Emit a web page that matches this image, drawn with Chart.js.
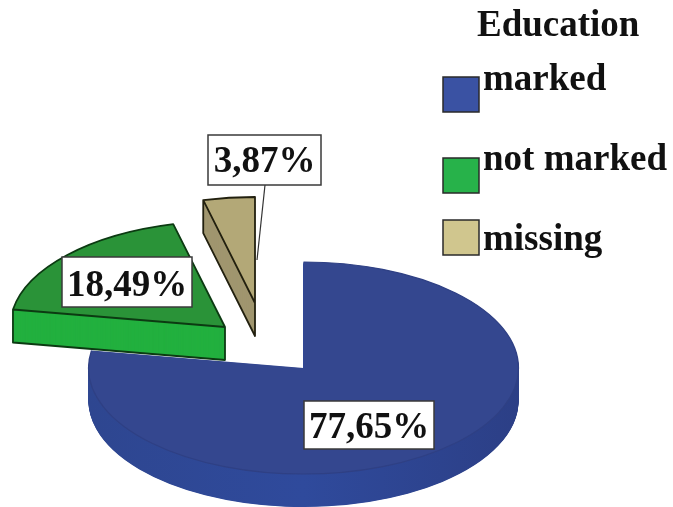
<!DOCTYPE html>
<html>
<head>
<meta charset="utf-8">
<title>Education</title>
<script src="https://cdn.jsdelivr.net/npm/chart.js@4"></script>
<style>
html, body { margin: 0; padding: 0; background: #fff; }
canvas { display: block; }
</style>
</head>
<body>
<canvas id="chart" width="673" height="507"></canvas>
<script>
const legendTitle = 'Education';
const categories = ['marked', 'not marked', 'missing'];
const shares = [77.65, 18.49, 3.87];

// look of the tilted pie, in page pixels
const RX = 215;
const RY = 106;
const DEPTH = 33;
const FONT = 'bold 37px "Liberation Serif"';

const topColors = ['#34478f', '#2a9338', '#b3a877'];
const sideColors = ['#2f4a9c', '#23b03f', '#a0966f'];
const swatchColors = ['#3a52a3', '#27b24a', '#d0c68e'];
const edgeColors = ['#2f4084', '#0c3a12', '#22200f'];

// where each slice's apex sits once exploded
const apex = [[303.5, 368], [225, 327], [255, 303]];
// x, y, w, h, text baseline
const labelBoxes = [[304, 401, 130, 48, 438], [62, 257, 130, 50, 296], [208, 135, 113, 50, 172]];
const legendRows = [[443, 77, 90], [443, 158, 170], [443, 220, 250]];

function formatShare(v) {
    return v.toFixed(2).replace('.', ',') + '%';
}

function drawSlice(ctx, arc, index, color, dy) {
    const R = arc.outerRadius;
    const saved = arc.options;
    arc.options = {
        backgroundColor: color, borderColor: 'transparent', borderWidth: 0,
        offset: 0, spacing: 0, circular: true, borderRadius: 0,
        borderAlign: 'center', borderJoinStyle: 'round'
    };
    ctx.save();
    ctx.translate(apex[index][0], apex[index][1] + dy);
    ctx.scale(RX / R, RY / R);
    ctx.translate(-arc.x, -arc.y);
    arc.draw(ctx);
    ctx.restore();
    arc.options = saved;
}

function sideFill(ctx, arc, index) {
    if (index !== 0) return sideColors[index];
    // the big slice's wall darkens towards the right
    const g = ctx.createLinearGradient(arc.x - arc.outerRadius, 0, arc.x + arc.outerRadius, 0);
    g.addColorStop(0, '#2e4690');
    g.addColorStop(0.5, sideColors[0]);
    g.addColorStop(1, '#2c3f86');
    return g;
}

function outlineSlice(ctx, arc, index) {
    const [x, y] = apex[index];
    const px = x + RX * Math.cos(arc.startAngle);
    const py = y + RY * Math.sin(arc.startAngle);
    ctx.save();
    ctx.strokeStyle = edgeColors[index];
    ctx.lineWidth = 1.8;
    ctx.lineJoin = 'round';
    ctx.beginPath();
    ctx.moveTo(x, y);
    ctx.ellipse(x, y, RX, RY, 0, arc.startAngle, arc.endAngle);
    ctx.closePath();
    ctx.moveTo(px, py);
    ctx.lineTo(px, py + DEPTH);
    ctx.lineTo(x, y + DEPTH);
    ctx.lineTo(x, y);
    ctx.stroke();
    ctx.restore();
}

function drawBlueRim(ctx, arc) {
    const [x, y] = apex[0];
    ctx.save();
    ctx.strokeStyle = edgeColors[0];
    ctx.lineWidth = 1.2;
    ctx.beginPath();
    ctx.ellipse(x, y, RX, RY, 0, arc.startAngle, arc.endAngle);
    ctx.stroke();
    ctx.restore();
}

function drawLabel(ctx, index) {
    const [x, y, w, h, base] = labelBoxes[index];
    ctx.fillStyle = '#fff';
    ctx.strokeStyle = '#3a3a3a';
    ctx.lineWidth = 1.5;
    ctx.fillRect(x, y, w, h);
    ctx.strokeRect(x, y, w, h);
    ctx.fillStyle = '#111';
    ctx.font = FONT;
    ctx.textAlign = 'center';
    ctx.textBaseline = 'alphabetic';
    ctx.fillText(formatShare(shares[index]), x + w / 2, base);
}

function drawLegend(ctx) {
    ctx.font = FONT;
    ctx.textAlign = 'left';
    ctx.textBaseline = 'alphabetic';
    ctx.fillStyle = '#111';
    ctx.fillText(legendTitle, 477, 36);
    categories.forEach((name, i) => {
        const [x, y, base] = legendRows[i];
        ctx.fillStyle = swatchColors[i];
        ctx.strokeStyle = '#2a2a2a';
        ctx.lineWidth = 1.5;
        ctx.fillRect(x, y, 36, 35);
        ctx.strokeRect(x, y, 36, 35);
        ctx.fillStyle = '#111';
        ctx.fillText(name, 483, base);
    });
}

const tiltedPie = {
    id: 'tiltedPie',
    beforeDatasetsDraw(chart) {
        const ctx = chart.ctx;
        const arcs = chart.getDatasetMeta(0).data;

        // blue first, the exploded slices lie over it
        [0, 2, 1].forEach(i => {
            const fill = sideFill(ctx, arcs[i], i);
            for (let dy = DEPTH; dy > 0; dy -= 0.5) {
                drawSlice(ctx, arcs[i], i, fill, dy);
            }
            drawSlice(ctx, arcs[i], i, topColors[i], 0);
            if (i === 0) {
                drawBlueRim(ctx, arcs[i]);
            } else {
                outlineSlice(ctx, arcs[i], i);
            }
        });

        // leader from the small label down to its slice
        ctx.save();
        ctx.strokeStyle = '#333';
        ctx.lineWidth = 1.2;
        ctx.beginPath();
        ctx.moveTo(265, 185);
        ctx.lineTo(257, 260);
        ctx.stroke();
        ctx.restore();

        [0, 1, 2].forEach(i => drawLabel(ctx, i));
        drawLegend(ctx);
        return false;
    }
};

new Chart(document.getElementById('chart'), {
    type: 'pie',
    data: {
        labels: categories,
        datasets: [{ data: shares, backgroundColor: topColors, borderWidth: 0 }]
    },
    options: {
        responsive: false,
        animation: false,
        plugins: {
            legend: { display: false },
            tooltip: { enabled: false }
        }
    },
    plugins: [tiltedPie]
});
</script>
</body>
</html>
